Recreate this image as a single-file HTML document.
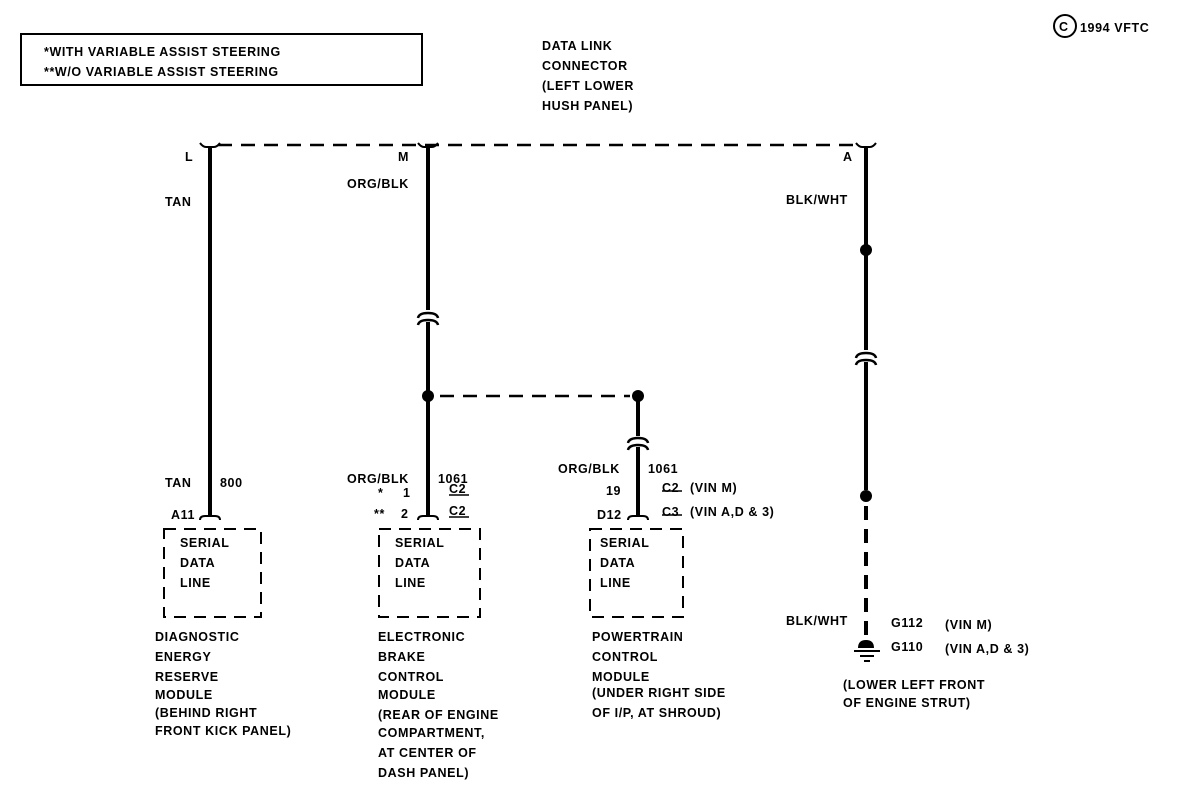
<!DOCTYPE html>
<html><head><meta charset="utf-8"><style>
body{margin:0;background:#fff;}
svg{display:block}
text{font-family:"Liberation Sans",sans-serif;font-weight:bold;font-size:12.5px;fill:#000;letter-spacing:0.6px}
</style></head><body>
<svg width="1185" height="788" viewBox="0 0 1185 788" xmlns="http://www.w3.org/2000/svg">
<g stroke="#000" fill="none">
<rect x="21" y="34" width="401" height="51" stroke-width="2"/>
<!-- top dashed -->
<line x1="218" y1="145" x2="858" y2="145" stroke-width="2.5" stroke-dasharray="14,9"/>
<path d="M200 143 q3 4 6 4 h8 q3 0 6 -4" stroke-width="2"/>
<path d="M418 143 q3 4 6 4 h8 q3 0 6 -4" stroke-width="2"/>
<path d="M856 143 q3 4 6 4 h8 q3 0 6 -4" stroke-width="2"/>
<!-- wires -->
<line x1="210" y1="147" x2="210" y2="516" stroke-width="4"/>
<line x1="428" y1="147" x2="428" y2="310" stroke-width="4"/>
<path d="M418 318 q1 -5 10 -5 q9 0 10 5" stroke-width="2.5"/>
<path d="M418 325 q1 -5 10 -5 q9 0 10 5" stroke-width="2.5"/>
<line x1="428" y1="322" x2="428" y2="516" stroke-width="4"/>
<line x1="440" y1="396" x2="630" y2="396" stroke-width="2.5" stroke-dasharray="14,9"/>
<line x1="638" y1="396" x2="638" y2="436" stroke-width="4"/>
<path d="M628 443 q1 -5 10 -5 q9 0 10 5" stroke-width="2.5"/>
<path d="M628 450 q1 -5 10 -5 q9 0 10 5" stroke-width="2.5"/>
<line x1="638" y1="447" x2="638" y2="516" stroke-width="4"/>
<line x1="866" y1="147" x2="866" y2="350" stroke-width="4"/>
<path d="M856 358 q1 -5 10 -5 q9 0 10 5" stroke-width="2.5"/>
<path d="M856 365 q1 -5 10 -5 q9 0 10 5" stroke-width="2.5"/>
<line x1="866" y1="362" x2="866" y2="490" stroke-width="4"/>
<line x1="866" y1="506" x2="866" y2="640" stroke-width="4" stroke-dasharray="14,9"/>
<!-- connectors bottom -->
<path d="M200 520 q0 -4 5 -4 h10 q5 0 5 4" stroke-width="2"/>
<path d="M418 520 q0 -4 5 -4 h10 q5 0 5 4" stroke-width="2"/>
<path d="M628 520 q0 -4 5 -4 h10 q5 0 5 4" stroke-width="2"/>
<!-- boxes -->
<rect x="164" y="529" width="97" height="88" stroke-width="2" stroke-dasharray="12,8"/>
<rect x="379" y="529" width="101" height="88" stroke-width="2" stroke-dasharray="12,8"/>
<rect x="590" y="529" width="93" height="88" stroke-width="2" stroke-dasharray="12,8"/>
<!-- ground -->
<line x1="854" y1="651" x2="880" y2="651" stroke-width="2"/>
<line x1="860" y1="656" x2="874" y2="656" stroke-width="2"/>
<line x1="864" y1="661" x2="870" y2="661" stroke-width="2"/>
<!-- underlines -->
<line x1="449" y1="495" x2="469" y2="495" stroke-width="1.5"/>
<line x1="449" y1="517" x2="469" y2="517" stroke-width="1.5"/>
<line x1="662" y1="491" x2="682" y2="491" stroke-width="1.5"/>
<line x1="662" y1="515" x2="682" y2="515" stroke-width="1.5"/>
<circle cx="1065" cy="26" r="11" stroke-width="2"/>
</g>
<g fill="#000">
<circle cx="428" cy="396" r="6"/><circle cx="638" cy="396" r="6"/>
<circle cx="866" cy="250" r="6"/><circle cx="866" cy="496" r="6"/>
<path d="M858 648 q0 -8 8 -8 q8 0 8 8 z"/>
</g>
<text x="1059" y="31" font-size="11">C</text>
<text x="1080" y="32">1994 VFTC</text>
<text x="44" y="56">*WITH VARIABLE ASSIST STEERING</text>
<text x="44" y="76">**W/O VARIABLE ASSIST STEERING</text>
<text x="542" y="50">DATA LINK</text>
<text x="542" y="70">CONNECTOR</text>
<text x="542" y="90">(LEFT LOWER</text>
<text x="542" y="110">HUSH PANEL)</text>
<text x="185" y="161">L</text>
<text x="398" y="161">M</text>
<text x="843" y="161">A</text>
<text x="165" y="206">TAN</text>
<text x="347" y="188">ORG/BLK</text>
<text x="786" y="204">BLK/WHT</text>
<text x="165" y="487">TAN</text>
<text x="220" y="487">800</text>
<text x="171" y="519">A11</text>
<text x="347" y="483">ORG/BLK</text>
<text x="438" y="483">1061</text>
<text x="378" y="497">*</text>
<text x="403" y="497">1</text>
<text x="449" y="493">C2</text>
<text x="374" y="518">**</text>
<text x="401" y="518">2</text>
<text x="449" y="515">C2</text>
<text x="558" y="473">ORG/BLK</text>
<text x="648" y="473">1061</text>
<text x="606" y="495">19</text>
<text x="662" y="492">C2</text>
<text x="690" y="492">(VIN M)</text>
<text x="597" y="519">D12</text>
<text x="662" y="516">C3</text>
<text x="690" y="516">(VIN A,D &amp; 3)</text>
<text x="180" y="547">SERIAL</text><text x="180" y="567">DATA</text><text x="180" y="587">LINE</text>
<text x="395" y="547">SERIAL</text><text x="395" y="567">DATA</text><text x="395" y="587">LINE</text>
<text x="600" y="547">SERIAL</text><text x="600" y="567">DATA</text><text x="600" y="587">LINE</text>
<text x="155" y="641">DIAGNOSTIC</text><text x="155" y="661">ENERGY</text><text x="155" y="681">RESERVE</text><text x="155" y="699">MODULE</text><text x="155" y="717">(BEHIND RIGHT</text><text x="155" y="735">FRONT KICK PANEL)</text>
<text x="378" y="641">ELECTRONIC</text><text x="378" y="661">BRAKE</text><text x="378" y="681">CONTROL</text><text x="378" y="699">MODULE</text><text x="378" y="719">(REAR OF ENGINE</text><text x="378" y="737">COMPARTMENT,</text><text x="378" y="757">AT CENTER OF</text><text x="378" y="777">DASH PANEL)</text>
<text x="592" y="641">POWERTRAIN</text><text x="592" y="661">CONTROL</text><text x="592" y="681">MODULE</text><text x="592" y="697">(UNDER RIGHT SIDE</text><text x="592" y="717">OF I/P, AT SHROUD)</text>
<text x="786" y="625">BLK/WHT</text>
<text x="891" y="627">G112</text><text x="945" y="629">(VIN M)</text>
<text x="891" y="651">G110</text><text x="945" y="653">(VIN A,D &amp; 3)</text>
<text x="843" y="689">(LOWER LEFT FRONT</text>
<text x="843" y="707">OF ENGINE STRUT)</text>
</svg>
</body></html>
